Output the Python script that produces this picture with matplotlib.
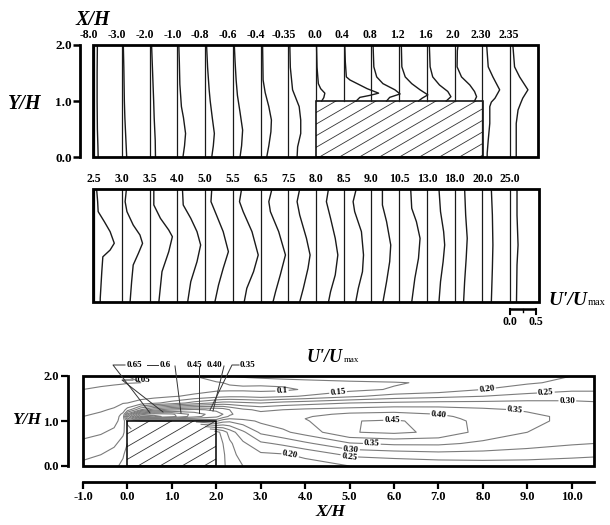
import numpy as np
import matplotlib
matplotlib.use('Agg')
import matplotlib.pyplot as plt
from matplotlib.patches import Rectangle
from matplotlib.lines import Line2D

plt.rcParams['font.family'] = ['Liberation Serif', 'DejaVu Serif']
plt.rcParams['font.weight'] = 'bold'

# ---------------------------------------------------------------- data
# Upper panel: U'/Umax profiles upstream of and over the block
top_labels = ["-8.0", "-3.0", "-2.0", "-1.0", "-0.8", "-0.6", "-0.4", "-0.35",
              "0.0", "0.4", "0.8", "1.2", "1.6", "2.0", "2.30", "2.35"]
top_y = [
    [0, 0.2, 0.5, 1.0, 1.5, 2.0],
    [0, 0.3, 0.7, 1.0, 1.6, 2.0],
    [0, 0.3, 0.7, 1.0, 1.5, 2.0],
    [0, 0.2, 0.42, 0.7, 0.9, 1.3, 1.7, 2.0],
    [0, 0.2, 0.42, 0.7, 1.0, 1.2, 1.6, 2.0],
    [0, 0.2, 0.48, 0.8, 1.1, 1.375, 1.7, 2.0],
    [0, 0.2, 0.45, 0.66, 0.9, 1.15, 1.375, 1.7, 2.0],
    [0, 0.18, 0.42, 0.66, 0.9, 1.2, 1.6, 2.0],
    [1.0, 1.06, 1.14, 1.22, 1.31, 1.6, 2.0],
    [1.0, 1.065, 1.1, 1.14, 1.22, 1.3, 1.375, 1.43, 1.7, 2.0],
    [1.0, 1.065, 1.126, 1.2, 1.31, 1.43, 1.61, 2.0],
    [1.0, 1.05, 1.11, 1.2, 1.31, 1.43, 1.61, 2.0],
    [1.0, 1.077, 1.17, 1.286, 1.43, 1.61, 2.0],
    [1.0, 1.077, 1.17, 1.286, 1.43, 1.61, 1.9, 2.0],
    [0, 0.065, 0.3, 0.6, 0.9, 0.98, 1.05, 1.2, 1.43, 1.61, 2.0],
    [0, 0.065, 0.6, 0.84, 0.96, 1.05, 1.2, 1.43, 1.61, 2.0],
]
top_u = [
    [0.08, 0.075, 0.065, 0.06, 0.06, 0.065],
    [0.095, 0.08, 0.06, 0.05, 0.04, 0.03],
    [0.115, 0.11, 0.09, 0.08, 0.06, 0.04],
    [0.11, 0.14, 0.16, 0.12, 0.08, 0.05, 0.04, 0.03],
    [0.13, 0.16, 0.18, 0.14, 0.1, 0.08, 0.05, 0.03],
    [0.14, 0.17, 0.19, 0.14, 0.09, 0.065, 0.045, 0.03],
    [0.12, 0.16, 0.2, 0.21, 0.16, 0.09, 0.05, 0.045, 0.04],
    [0.17, 0.18, 0.24, 0.24, 0.21, 0.083, 0.04, 0.03],
    [0.11, 0.15, 0.17, 0.09, 0.045, 0.02, 0.01],
    [0.24, 0.31, 0.5, 0.67, 0.45, 0.28, 0.12, 0.05, 0.03, 0.02],
    [0.29, 0.35, 0.55, 0.45, 0.22, 0.1, 0.045, 0.03],
    [0.37, 0.44, 0.55, 0.4, 0.24, 0.115, 0.05, 0.04],
    [0.37, 0.46, 0.4, 0.24, 0.11, 0.06, 0.045],
    [0.38, 0.42, 0.38, 0.29, 0.13, 0.045, 0.05, 0.065],
    [0.09, 0.09, 0.11, 0.14, 0.14, 0.17, 0.24, 0.33, 0.2, 0.11, 0.08],
    [0.115, 0.115, 0.115, 0.15, 0.2, 0.24, 0.34, 0.18, 0.083, 0.05],
]
over_block_labels = ["0.0", "0.4", "0.8", "1.2", "1.6", "2.0"]
block_first_label, block_last_label = "0.0", "2.30"

# Middle panel: U'/Umax profiles downstream of the block
bot_labels = ["2.5", "3.0", "3.5", "4.0", "5.0", "5.5", "6.5", "7.5",
              "8.0", "8.5", "9.0", "10.5", "13.0", "18.0", "20.0", "25.0"]
bot_y = [
    [0, 0.065, 0.537, 0.8, 0.92, 1.04, 1.245, 1.42, 1.6, 1.78, 2.0],
    [0, 0.36, 0.655, 0.861, 1.038, 1.186, 1.363, 1.6, 1.776, 2.0],
    [0, 0.537, 0.89, 1.156, 1.274, 1.481, 1.717, 2.0],
    [0, 0.36, 0.714, 1.009, 1.245, 1.481, 1.717, 2.0],
    [0, 0.3, 0.596, 0.891, 1.245, 1.54, 1.776, 2.0],
    [0, 0.242, 0.537, 0.832, 1.245, 1.6, 1.776, 2.0],
    [0, 0.183, 0.478, 0.832, 1.245, 1.6, 1.776, 2.0],
    [0, 0.242, 0.596, 0.832, 1.127, 1.54, 1.776, 2.0],
    [0, 0.183, 0.478, 0.832, 1.127, 1.481, 1.776, 2.0],
    [0, 0.242, 0.537, 0.832, 1.245, 1.6, 1.776, 2.0],
    [0, 0.36, 0.714, 1.009, 1.422, 1.717, 2.0],
    [0, 0.419, 0.773, 1.127, 1.422, 1.658, 2.0],
    [0, 0.36, 0.714, 1.009, 1.245, 1.6, 2.0],
    [0, 0.36, 0.773, 1.127, 1.54, 2.0],
    [0, 0.596, 1.009, 1.54, 2.0],
    [0, 0.655, 1.009, 1.54, 2.0],
]
bot_u = [
    [0.12, 0.12, 0.15, 0.17, 0.31, 0.39, 0.31, 0.2, 0.08, 0.07, 0.05],
    [0.16, 0.19, 0.22, 0.32, 0.4, 0.35, 0.22, 0.1, 0.065, 0.09],
    [0.18, 0.24, 0.37, 0.44, 0.37, 0.21, 0.083, 0.083],
    [0.2, 0.26, 0.38, 0.45, 0.38, 0.26, 0.115, 0.1],
    [0.19, 0.26, 0.35, 0.45, 0.35, 0.22, 0.115, 0.13],
    [0.22, 0.27, 0.4, 0.49, 0.37, 0.2, 0.13, 0.17],
    [0.24, 0.29, 0.38, 0.48, 0.35, 0.19, 0.16, 0.22],
    [0.22, 0.29, 0.38, 0.42, 0.35, 0.22, 0.17, 0.22],
    [0.24, 0.28, 0.37, 0.42, 0.37, 0.28, 0.2, 0.24],
    [0.23, 0.28, 0.36, 0.38, 0.34, 0.21, 0.18, 0.24],
    [0.22, 0.29, 0.35, 0.37, 0.29, 0.21, 0.21],
    [0.24, 0.3, 0.37, 0.4, 0.33, 0.24, 0.22],
    [0.23, 0.26, 0.31, 0.34, 0.32, 0.26, 0.23],
    [0.17, 0.19, 0.22, 0.24, 0.21, 0.19],
    [0.17, 0.19, 0.2, 0.19, 0.17],
    [0.12, 0.13, 0.15, 0.13, 0.13],
]
scale_bar_values = [0.0, 0.5]

# Bottom panel: U'/Umax contour field (columns at cont_x, rows at cont_y)
cont_x = [-1.0, -0.6, -0.3, -0.1, 0.0, 0.3, 0.6, 1.0, 1.5, 2.0, 2.15, 2.3, 2.6,
          3.0, 3.5, 4.0, 5.0, 6.0, 7.0, 8.0, 9.0, 10.0, 10.5]
cont_y = [0.0, 0.25, 0.5, 0.75, 1.0, 1.05, 1.1, 1.15, 1.25, 1.4, 1.55, 1.7, 1.85, 2.0]
nan = np.nan
cont_u_columns = [
    [0.21, 0.19, 0.16, 0.135, 0.11, 0.105, 0.1, 0.095, 0.085, 0.07, 0.06, 0.05, 0.045, 0.05],
    [0.22, 0.2, 0.17, 0.145, 0.12, 0.115, 0.11, 0.105, 0.095, 0.078, 0.065, 0.053, 0.046, 0.05],
    [0.24, 0.22, 0.19, 0.16, 0.135, 0.13, 0.125, 0.12, 0.105, 0.088, 0.07, 0.056, 0.047, 0.05],
    [0.26, 0.245, 0.22, 0.19, 0.17, 0.17, 0.17, 0.16, 0.13, 0.098, 0.075, 0.058, 0.048, 0.05],
    [0.28, 0.27, 0.25, 0.23, 0.26, 0.33, 0.4, 0.32, 0.17, 0.1, 0.078, 0.06, 0.049, 0.05],
    [nan, nan, nan, nan, 0.30, 0.50, 0.67, 0.58, 0.30, 0.12, 0.08, 0.06, 0.05, 0.055],
    [nan, nan, nan, nan, 0.30, 0.48, 0.67, 0.63, 0.38, 0.14, 0.085, 0.065, 0.055, 0.065],
    [nan, nan, nan, nan, 0.30, 0.45, 0.62, 0.61, 0.44, 0.17, 0.095, 0.07, 0.065, 0.08],
    [nan, nan, nan, nan, 0.32, 0.43, 0.52, 0.53, 0.46, 0.22, 0.11, 0.08, 0.08, 0.1],
    [0.06, 0.06, 0.07, 0.08, 0.36, 0.42, 0.46, 0.47, 0.44, 0.26, 0.13, 0.09, 0.095, 0.13],
    [0.09, 0.09, 0.1, 0.12, 0.32, 0.37, 0.43, 0.45, 0.43, 0.27, 0.135, 0.09, 0.1, 0.14],
    [0.12, 0.13, 0.14, 0.17, 0.31, 0.35, 0.39, 0.41, 0.40, 0.27, 0.14, 0.09, 0.105, 0.15],
    [0.15, 0.17, 0.19, 0.24, 0.33, 0.36, 0.37, 0.37, 0.36, 0.26, 0.14, 0.09, 0.11, 0.16],
    [0.16, 0.19, 0.24, 0.31, 0.36, 0.37, 0.37, 0.365, 0.34, 0.25, 0.13, 0.088, 0.11, 0.17],
    [0.17, 0.195, 0.26, 0.34, 0.375, 0.38, 0.38, 0.375, 0.35, 0.27, 0.14, 0.09, 0.115, 0.18],
    [0.18, 0.21, 0.29, 0.37, 0.395, 0.4, 0.395, 0.385, 0.36, 0.28, 0.155, 0.105, 0.12, 0.19],
    [0.2, 0.26, 0.345, 0.447, 0.447, 0.435, 0.425, 0.41, 0.37, 0.3, 0.19, 0.135, 0.135, 0.2],
    [0.21, 0.27, 0.36, 0.46, 0.458, 0.44, 0.43, 0.415, 0.38, 0.31, 0.22, 0.155, 0.145, 0.2],
    [0.215, 0.28, 0.36, 0.44, 0.425, 0.415, 0.41, 0.4, 0.375, 0.315, 0.235, 0.17, 0.16, 0.2],
    [0.22, 0.28, 0.34, 0.38, 0.385, 0.385, 0.38, 0.375, 0.36, 0.315, 0.25, 0.2, 0.18, 0.2],
    [0.22, 0.275, 0.32, 0.35, 0.36, 0.36, 0.36, 0.355, 0.345, 0.315, 0.27, 0.22, 0.195, 0.2],
    [0.215, 0.265, 0.305, 0.33, 0.34, 0.34, 0.34, 0.335, 0.33, 0.31, 0.28, 0.24, 0.21, 0.2],
    [0.21, 0.26, 0.3, 0.32, 0.33, 0.33, 0.33, 0.33, 0.325, 0.305, 0.28, 0.24, 0.21, 0.2],
]
cont_levels = [0.05, 0.1, 0.15, 0.2, 0.25, 0.3, 0.35, 0.4, 0.45, 0.5, 0.55, 0.6, 0.65]
level_text = {0.05: "0.05", 0.1: "0.1", 0.15: "0.15", 0.2: "0.20", 0.25: "0.25",
              0.3: "0.30", 0.35: "0.35", 0.4: "0.40", 0.45: "0.45", 0.5: "0.50",
              0.55: "0.55", 0.6: "0.6", 0.65: "0.65"}
block_x = (0.0, 2.0)
block_h = 1.0
x_ticks3 = [-1.0, 0.0, 1.0, 2.0, 3.0, 4.0, 5.0, 6.0, 7.0, 8.0, 9.0, 10.0]

# ---------------------------------------------------------------- layout
W, H = 610, 525
fig = plt.figure(figsize=(W / 100, H / 100), dpi=100)


def fx(px):
    return px / W


def fy(py):
    return 1 - py / H


SLOT = 27.75          # px between profile stations
UPX = 52.0            # px per unit of U'/Umax
USCALE = UPX / SLOT   # slot units per unit of U'/Umax
BASE0 = 94.0          # px of first station
LINEC = '#1a1a1a'


def frame(ax, lw=2.0):
    ax.add_patch(Rectangle((0, 0), 1, 1, transform=ax.transAxes, fill=False,
                           lw=lw, ec='k', clip_on=False, zorder=5))


def hatch(ax, x0, x1, y0, y1, slope, step, lw=0.6):
    rect = Rectangle((x0, y0), x1 - x0, y1 - y0, fill=False, ec='k', lw=1.1, zorder=4)
    ax.add_patch(rect)
    span = (y1 - y0) / slope
    c = x0 - span - step
    while c < x1 + step:
        ln, = ax.plot([c, c + span + step], [y0, y0 + slope * (span + step)],
                      color='#333333', lw=lw, zorder=3)
        ln.set_clip_path(rect)
        c += step
    return rect


# ---------------- upper panel
ax1 = fig.add_axes([fx(93), fy(157), (538 - 93) / W, (157 - 45) / H])
ax1.set_xlim((93 - BASE0) / SLOT, (538 - BASE0) / SLOT)
ax1.set_ylim(0, 2)
for s in ['top', 'right', 'bottom']:
    ax1.spines[s].set_visible(False)
ax1.spines['left'].set_position(('outward', 13 * 0.72))
ax1.spines['left'].set_linewidth(2.0)
ax1.set_xticks([])
ax1.set_yticks([0, 1, 2])
ax1.set_yticklabels(['0.0', '1.0', '2.0'])
ax1.tick_params(axis='y', direction='out', length=5, width=1.8, labelsize=9.5, pad=1)
frame(ax1)
ib0 = top_labels.index(block_first_label)
ib1 = top_labels.index(block_last_label)
hatch(ax1, ib0, ib1, 0, block_h, 0.58 * SLOT / 56.0, 20 / SLOT)
for i, (lab, ys, us) in enumerate(zip(top_labels, top_y, top_u)):
    ystart = block_h if lab in over_block_labels else 0.0
    ax1.plot([i, i], [ystart, 2], color=LINEC, lw=0.9, zorder=4)
    ax1.plot(i + USCALE * np.array(us), ys, color=LINEC, lw=1.0, zorder=4)
    dx = -0.17 if lab.startswith('-') else -0.05
    ax1.text(i + dx, 2.07, lab, ha='center', va='bottom', fontsize=8.5,
             fontweight='bold')

fig.text(fx(93), fy(20), 'X/H', ha='center', va='center', fontsize=14.5,
         fontweight='bold', style='italic')
fig.text(fx(25), fy(104), 'Y/H', ha='center', va='center', fontsize=14.5,
         fontweight='bold', style='italic')

# ---------------- middle panel
ax2 = fig.add_axes([fx(93), fy(302), (539 - 93) / W, (302 - 189) / H])
ax2.set_xlim((93 - BASE0) / SLOT, (539 - BASE0) / SLOT)
ax2.set_ylim(0, 2)
ax2.axis('off')
frame(ax2)
for i, (lab, ys, us) in enumerate(zip(bot_labels, bot_y, bot_u)):
    ax2.plot([i, i], [0, 2], color=LINEC, lw=0.9)
    ax2.plot(i + USCALE * np.array(us), ys, color=LINEC, lw=1.0)
    ax2.text(i, 2.07, lab, ha='center', va='bottom', fontsize=8.5, fontweight='bold')

# scale bar
i_sb = len(bot_labels) - 1
sb_x = [i_sb + USCALE * v for v in scale_bar_values]
sb_y = -(309 - 302) / 56.5
tick_len = 5 / 56.5
ax2.plot(sb_x, [sb_y, sb_y], color='k', lw=1.8, clip_on=False, solid_capstyle='butt')
for xv in sb_x:
    ax2.plot([xv, xv], [sb_y, sb_y - tick_len], color='k', lw=1.5, clip_on=False)
ax2.plot([np.mean(sb_x)] * 2, [sb_y, sb_y - tick_len * 0.6], color='k', lw=1.0,
         clip_on=False)
for xv, v in zip(sb_x, scale_bar_values):
    ax2.text(xv, sb_y - tick_len - 0.04, f'{v:.1f}', ha='center', va='top',
             fontsize=8.5, fontweight='bold', clip_on=False)


def umax_label(x_px, y_px, size, subsize):
    t = fig.text(fx(x_px), fy(y_px), "U'/U", ha='left', va='baseline',
                 fontsize=size, fontweight='bold', style='italic')
    fig.canvas.draw()
    bb = t.get_window_extent()
    fig.text(bb.x1 / W + 0.001, fy(y_px), 'max', ha='left', va='baseline',
             fontsize=subsize, fontweight='normal')


umax_label(548, 305, 14, 7.5)

# ---------------- bottom panel (contours)
ax3 = fig.add_axes([fx(83), fy(466), (594 - 83) / W, (466 - 376) / H])
ax3.set_xlim(-1.0, 10.5)
ax3.set_ylim(0, 2)
for s in ['top', 'right']:
    ax3.spines[s].set_visible(False)
ax3.spines['left'].set_position(('outward', 15 * 0.72))
ax3.spines['bottom'].set_position(('outward', 16 * 0.72))
ax3.spines['left'].set_linewidth(2.0)
ax3.spines['bottom'].set_linewidth(2.0)
ax3.set_yticks([0, 1, 2])
ax3.set_yticklabels(['0.0', '1.0', '2.0'])
ax3.set_xticks(x_ticks3)
ax3.set_xticklabels([f'{v:.1f}' for v in x_ticks3])
ax3.tick_params(direction='out', length=5, width=1.6, labelsize=9, pad=1.5)
frame(ax3)

Z = np.ma.masked_invalid(np.array(cont_u_columns, dtype=float).T)
cs = ax3.contour(cont_x, cont_y, Z, levels=cont_levels, colors='#7c7c7c',
                 linewidths=0.8, zorder=2)
label_spots = [(3.48, 1.64), (4.74, 1.64), (8.1, 1.64), (9.42, 1.55),
               (9.9, 1.40), (8.7, 1.12), (7.0, 1.12), (5.96, 0.88),
               (5.5, 0.5), (5.03, 0.37), (4.99, 0.2), (3.66, 0.22)]
ax3.clabel(cs, manual=label_spots, fmt=lambda v: level_text[round(v, 2)],
           fontsize=6.5, colors='k', inline=True, inline_spacing=1)
for t in cs.labelTexts:
    t.set_fontweight('bold')

hatch(ax3, block_x[0], block_x[1], 0, block_h, 0.58 * 44.4 / 45.0, 22 / 44.4)
ax3.add_patch(Rectangle((block_x[0], 0), block_x[1] - block_x[0], block_h,
                        facecolor='white', edgecolor='none', zorder=1))

# leader-line labels above the contour panel
leaders = [
    ("0.65", (127, 365), [(125, 365), (113, 365), (150, 413)]),
    ("0.05", (135, 380), [(133, 380), (122, 380), (163, 412)]),
    ("0.6", (160, 365), [(158, 365), (147, 365)]),
    ("", (0, 0), [(175, 366), (181, 413)]),
    ("0.45", (187, 365), [(199, 366), (199, 413)]),
    ("0.40", (207, 365), [(224, 366), (213, 411)]),
    ("0.35", (240, 365), [(239, 365), (232, 365), (210, 410)]),
]
for txt, (tx, ty), pts in leaders:
    if txt:
        fig.text(fx(tx), fy(ty), txt, ha='left', va='center', fontsize=6.5,
                 fontweight='bold')
    fig.add_artist(Line2D([fx(p[0]) for p in pts], [fy(p[1]) for p in pts],
                          transform=fig.transFigure, color='#333333', lw=0.7))

umax_label(307, 362, 13, 6.5)
fig.text(fx(330), fy(512), 'X/H', ha='center', va='center', fontsize=12.5,
         fontweight='bold', style='italic')
fig.text(fx(27), fy(420), 'Y/H', ha='center', va='center', fontsize=12.5,
         fontweight='bold', style='italic')

fig.savefig('out.png', dpi=100)
